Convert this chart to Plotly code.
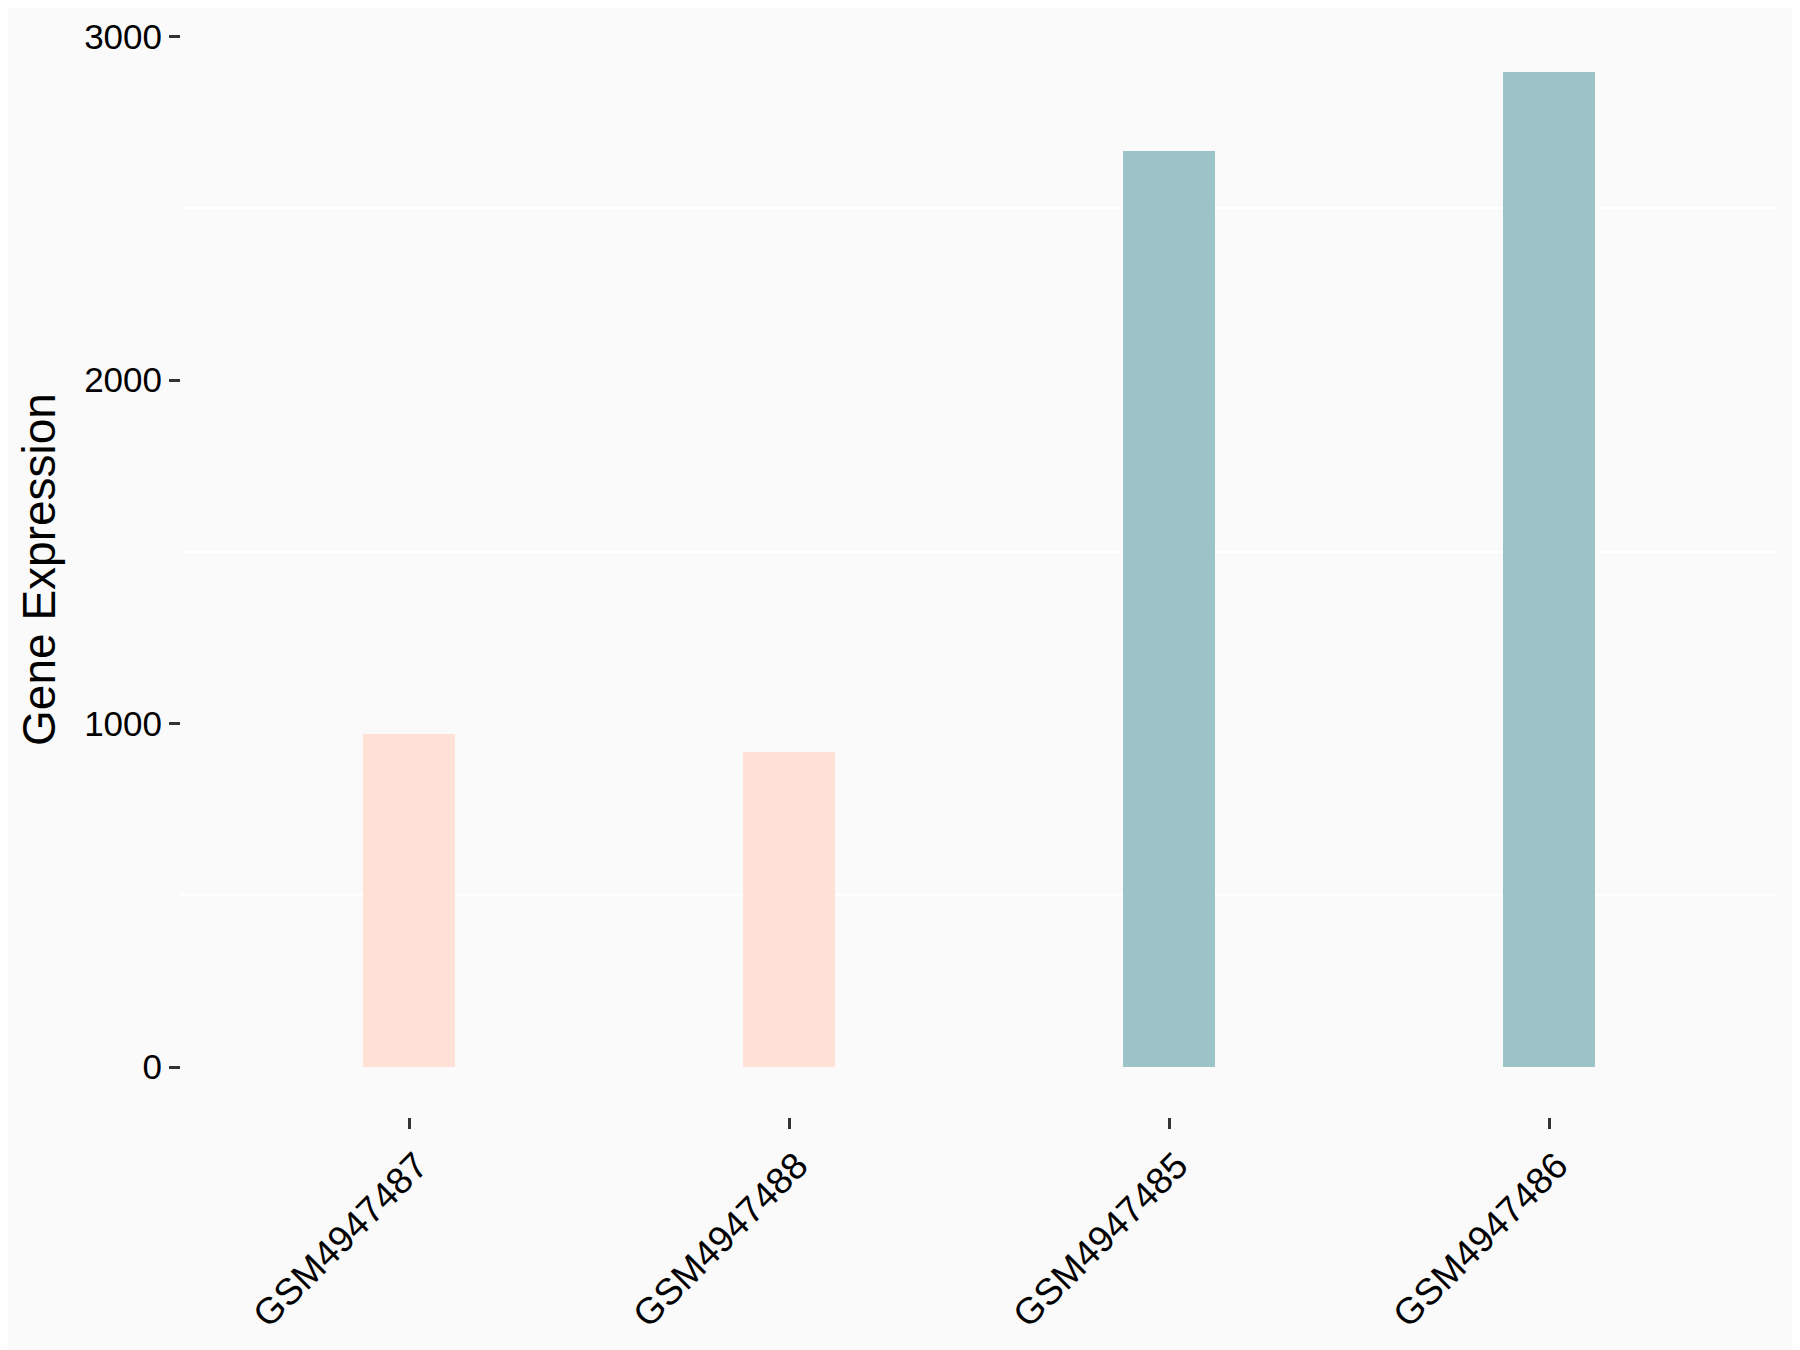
import plotly.graph_objects as go

samples = ["GSM4947487", "GSM4947488", "GSM4947485", "GSM4947486"]
expression = [971, 918, 2665, 2897]
groups = ["A", "A", "B", "B"]
group_colors = {"A": "#FFE1D6", "B": "#9CC4C8"}

y_major = [0, 1000, 2000, 3000]
y_minor = [500, 1500, 2500]

ymax = max(expression)
yrange = [-0.05 * ymax, ymax * 1.05]

fig = go.Figure()
fig.add_trace(go.Bar(
    x=samples,
    y=expression,
    width=0.24,
    marker=dict(color=[group_colors[g] for g in groups], line=dict(width=0)),
    showlegend=False,
))

# page has an 8px body margin, so the figure is drawn 8px in from the top-left
fig.update_layout(
    width=1792, height=1342,
    paper_bgcolor="#FAFAFA",
    plot_bgcolor="#FAFAFA",
    margin=dict(l=173, r=23, t=14, b=233, autoexpand=False),
    font=dict(family="Liberation Sans, Arial, sans-serif", color="black", size=35),
    bargap=0,
)
fig.update_xaxes(
    type="category",
    range=[-0.6, 3.6],
    showgrid=False, zeroline=False, showline=False,
    ticks="outside", ticklen=11, tickwidth=3, tickcolor="#333333",
    tickangle=-45,
    ticklabelshift=8,
    tickfont=dict(size=37, color="black"),
)
fig.update_yaxes(
    range=yrange,
    tickvals=y_major,
    ticktext=[str(v) for v in y_major],
    showgrid=False, zeroline=False, showline=False,
    ticks="outside", ticklen=11, tickwidth=3, tickcolor="#333333",
    tickfont=dict(size=35, color="black"),
    minor=dict(tickvals=y_minor, showgrid=True, gridcolor="white", gridwidth=2, ticks=""),
    title=dict(text="Gene Expression", font=dict(size=46, color="black"), standoff=14),
)

fig.write_html("out.html")
